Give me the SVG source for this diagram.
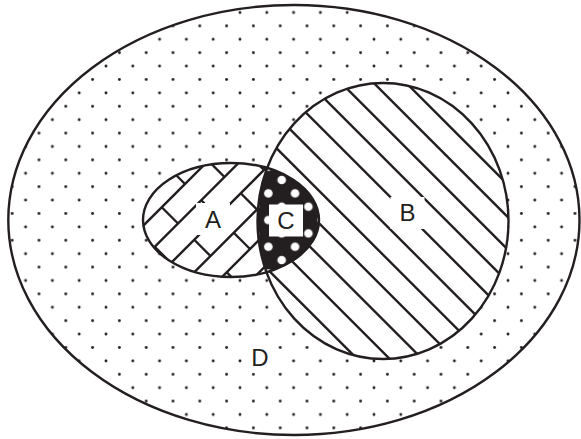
<svg xmlns="http://www.w3.org/2000/svg" width="581" height="439" viewBox="0 0 581 439">
<style>
.ink{stroke:#231f20;stroke-width:2.4;fill:none}
.hatch{stroke:#231f20;stroke-width:2.4;fill:none;stroke-linecap:butt}
.box{fill:#ffffff;stroke:none}
.lbl{font-family:"Liberation Sans",Arial,sans-serif;font-size:24px;fill:#231f20;text-anchor:middle}
</style>
<defs>
<pattern id="dots" patternUnits="userSpaceOnUse" x="-1.2" y="39.3" width="26.8" height="26.8">
<circle cx="0" cy="0" r="1.45" fill="#231f20"/>
<circle cx="26.8" cy="0" r="1.45" fill="#231f20"/>
<circle cx="0" cy="26.8" r="1.45" fill="#231f20"/>
<circle cx="26.8" cy="26.8" r="1.45" fill="#231f20"/>
<circle cx="13.4" cy="13.4" r="1.45" fill="#231f20"/>
</pattern>
<pattern id="wdots" patternUnits="userSpaceOnUse" x="281.7" y="180" width="26.7" height="26.7">
<circle cx="0" cy="0" r="4.3" fill="#ffffff"/>
<circle cx="26.7" cy="0" r="4.3" fill="#ffffff"/>
<circle cx="0" cy="26.7" r="4.3" fill="#ffffff"/>
<circle cx="26.7" cy="26.7" r="4.3" fill="#ffffff"/>
<circle cx="13.35" cy="13.35" r="4.3" fill="#ffffff"/>
</pattern>
<clipPath id="clipA"><ellipse cx="231" cy="220" rx="88" ry="57"/></clipPath>
<clipPath id="clipB"><ellipse cx="383" cy="221" rx="125.5" ry="138"/></clipPath>
</defs>

<g id="region-D">
<ellipse cx="293.9" cy="220" rx="285.6" ry="215" fill="#ffffff"/>
<ellipse cx="293.9" cy="220" rx="285.6" ry="215" fill="url(#dots)"/>
<ellipse class="ink" cx="293.9" cy="220" rx="285.6" ry="215"/>
<rect class="box" x="243" y="341" width="34" height="32"/>
<text class="lbl" x="260" y="366">D</text>
</g>

<g id="region-B">
<ellipse cx="383" cy="221" rx="125.5" ry="138" fill="#ffffff"/>
<g clip-path="url(#clipB)">
<path class="hatch" d="M250,-170.8L515,94.2M250,-138.3L515,126.7M250,-105.8L515,159.2M250,-73.3L515,191.7M250,-40.8L515,224.2M250,-8.3L515,256.7M250,24.2L515,289.2M250,56.7L515,321.7M250,89.2L515,354.2M250,121.7L515,386.7M250,154.2L515,419.2M250,186.7L515,451.7M250,219.2L515,484.2M250,251.7L515,516.7M250,284.2L515,549.2M250,316.7L515,581.7M250,349.2L515,614.2"/>
</g>
</g>

<g id="region-A">
<ellipse cx="231" cy="220" rx="88" ry="57" fill="#ffffff"/>
<g clip-path="url(#clipA)">
<path class="hatch" d="M88.25,248.25L248.25,88.25M104.5,264.5L264.5,104.5M120.75,280.75L280.75,120.75M137,297L297,137M153.25,313.25L313.25,153.25M169.5,329.5L329.5,169.5M185.75,345.75L345.75,185.75M202,362L362,202"/>
<path class="hatch" d="M168.75,167.75L185,184M161.75,207.25L178,223.5M208.25,160.75L224.5,177M201.25,200.25L217.5,216.5M247.75,153.75L264,170M154.75,246.75L171,263M194.25,239.75L210.5,256M240.75,193.25L257,209.5M233.75,232.75L250,249M226.75,272.25L243,288.5"/>
</g>
</g>

<g id="region-C">
<g clip-path="url(#clipB)">
<ellipse cx="231" cy="220" rx="88" ry="57" fill="#231f20"/>
<ellipse cx="231" cy="220" rx="88" ry="57" fill="url(#wdots)"/>
</g>
</g>

<g id="outlines">
<ellipse class="ink" cx="383" cy="221" rx="125.5" ry="138"/>
<ellipse class="ink" cx="231" cy="220" rx="88" ry="57"/>
</g>

<g id="labels">
<rect class="box" x="196" y="203" width="34" height="32"/>
<text class="lbl" x="213" y="228">A</text>
<rect class="box" x="390.5" y="197" width="34" height="32"/>
<text class="lbl" x="407.5" y="221">B</text>
<rect class="box" x="269" y="204.5" width="34" height="32"/>
<text class="lbl" x="286" y="229">C</text>
</g>

<g id="connectors"/>
</svg>
